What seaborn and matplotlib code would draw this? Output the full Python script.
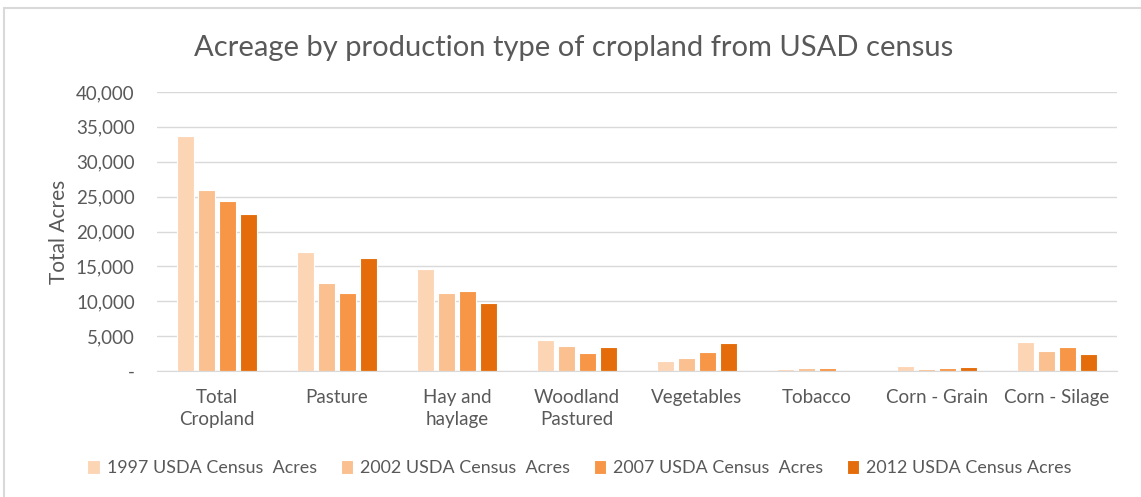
import pandas as pd
import numpy as np
import matplotlib.pyplot as plt
import seaborn as sns
from matplotlib.ticker import FuncFormatter
from matplotlib.lines import Line2D

# Data
categories = ['Total\nCropland', 'Pasture', 'Hay and\nhaylage', 'Woodland\nPastured',
              'Vegetables', 'Tobacco', 'Corn - Grain', 'Corn - Silage']
series = ['1997 USDA Census  Acres', '2002 USDA Census  Acres',
          '2007 USDA Census  Acres', '2012 USDA Census Acres']
acres_1997 = [33700, 17000, 14600, 4450, 1450, 250, 680, 4100]
acres_2002 = [26000, 12600, 11200, 3600, 1900, 380, 250, 2870]
acres_2007 = [24400, 11200, 11400, 2650, 2700, 380, 400, 3500]
acres_2012 = [22500, 16200, 9800, 3400, 3950, 0, 570, 2400]
colors = ['#FCD5B5', '#FAC090', '#F79646', '#E46C0A']

df = pd.DataFrame({
    'category': categories * 4,
    'series': np.repeat(series, len(categories)),
    'acres': acres_1997 + acres_2002 + acres_2007 + acres_2012,
})

sns.set_style('white')
plt.rcParams['font.family'] = ['Lato', 'DejaVu Sans']
text_color = '#595959'

fig = plt.figure(figsize=(11.41, 4.97), dpi=100)
ax = fig.add_axes([157 / 1141, 126 / 497, 960 / 1141, 279 / 497])

sns.barplot(data=df, x='category', y='acres', hue='series', palette=colors,
            order=categories, hue_order=series, width=0.7, gap=0.15,
            edgecolor='white', linewidth=0.8, saturation=1, ax=ax)

ax.set_ylim(0, 40000)
ax.set_xlim(-0.5, len(categories) - 0.5)
ax.set_yticks(range(0, 40001, 5000))
ax.yaxis.set_major_formatter(FuncFormatter(lambda v, p: '-' if v == 0 else f'{int(v):,}'))
ax.grid(axis='y', color='#D9D9D9', linewidth=1)
ax.set_axisbelow(True)
for s in ['top', 'right', 'left']:
    ax.spines[s].set_visible(False)
ax.spines['bottom'].set_color('#D9D9D9')
ax.tick_params(axis='both', length=0, labelsize=13.5, colors=text_color)
ax.tick_params(axis='x', pad=13)
ax.tick_params(axis='y', pad=16)
for lbl in ax.get_xticklabels():
    lbl.set_linespacing(1.35)
ax.set_xlabel('')
ax.set_ylabel('Total Acres', fontsize=15, color=text_color, labelpad=5)

fig.suptitle('Acreage by production type of cropland from USAD census',
             x=0.503, y=0.93, fontsize=21, color=text_color)

handles, labels = ax.get_legend_handles_labels()
ax.get_legend().remove()
fig.legend(handles, labels, loc='center', bbox_to_anchor=(0.508, 0.058), ncol=4,
           frameon=False, fontsize=12.9, labelcolor=text_color,
           handlelength=0.7, handleheight=0.8, handletextpad=0.4, columnspacing=1.3)

# chart border (top and left edges visible in the reference crop)
fig.add_artist(Line2D([4 / 1141, 4 / 1141], [0, 1 - 8 / 497], transform=fig.transFigure,
                      color='#D9D9D9', linewidth=1.5))
fig.add_artist(Line2D([4 / 1141, 1], [1 - 8 / 497, 1 - 8 / 497], transform=fig.transFigure,
                      color='#D9D9D9', linewidth=1.5))

fig.savefig('out.png', dpi=100)
